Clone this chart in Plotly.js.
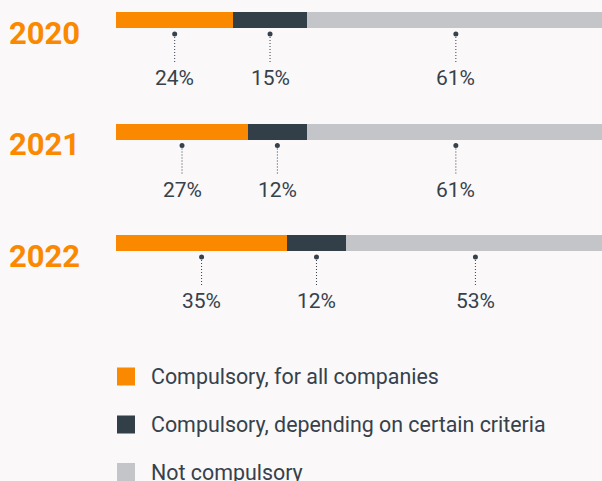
<!DOCTYPE html>
<html>
<head>
<meta charset="utf-8">
<script src="https://cdn.plot.ly/plotly-3.0.1.min.js"></script>
<style>html,body{margin:0;padding:0;background:#FAF8F9;}#chart{width:602px;height:481px;}</style>
</head>
<body>
<div id="chart"></div>
<script>
const years = ['2020', '2021', '2022'];
const forAll = [24, 27, 35];
const depending = [15, 12, 12];
const notCompulsory = [61, 61, 53];
const seriesNames = ['Compulsory, for all companies', 'Compulsory, depending on certain criteria', 'Not compulsory'];
const seriesColors = ['#FA8900', '#323E48', '#C4C5C8'];
const series = [forAll, depending, notCompulsory];

const W = 602, H = 481, L = 116;
const plotW = W - L;
const pxPerPct = 4.89;
const pxPerRow = 111.5;
const firstRowY = 20;
const textColor = '#36414B';
const font = 'Roboto, "Open Sans", sans-serif';

const traces = series.map((vals, s) => ({
  type: 'bar', orientation: 'h', x: vals, y: years, name: seriesNames[s],
  marker: {color: seriesColors[s]}, width: 16 / pxPerRow, hoverinfo: 'none', showlegend: false
}));

const shapes = [];
const annotations = [];
years.forEach((yr, i) => {
  let cum = 0;
  series.forEach((vals, s) => {
    const c = cum + vals[i] / 2;
    cum += vals[i];
    shapes.push({type: 'line', xref: 'x', yref: 'y', x0: c, x1: c, ysizemode: 'pixel', yanchor: i,
      y0: -14, y1: -42, line: {color: textColor, width: 1, dash: '1px,2px'}});
    shapes.push({type: 'circle', xref: 'x', yref: 'y', xsizemode: 'pixel', ysizemode: 'pixel',
      xanchor: c, yanchor: i, x0: -2.5, x1: 2.5, y0: -11.5, y1: -16.5,
      fillcolor: textColor, line: {width: 0}});
    annotations.push({x: c, y: i, xref: 'x', yref: 'y', yshift: -58, showarrow: false,
      text: vals[i] + '%', font: {family: font, size: 21, color: textColor}, xanchor: 'center', yanchor: 'middle'});
  });
  annotations.push({xref: 'paper', yref: 'y', x: (7 - L) / plotW, y: i, yshift: -13, showarrow: false,
    text: '<b>' + yr + '</b>', xanchor: 'left', yanchor: 'middle',
    font: {family: font, size: 31, color: '#FA8900'}});
});

// legend
const legendY = [376.5, 424.5, 472];
seriesNames.forEach((nm, s) => {
  const py = legendY[s];
  shapes.push({type: 'rect', xref: 'paper', yref: 'paper',
    x0: (117 - L) / plotW, x1: (135 - L) / plotW, y0: 1 - (py - 9) / H, y1: 1 - (py + 9) / H,
    fillcolor: seriesColors[s], line: {width: 0}});
  annotations.push({xref: 'paper', yref: 'paper', x: (149 - L) / plotW, y: 1 - py / H, showarrow: false,
    text: nm, xanchor: 'left', yanchor: 'middle', font: {family: font, size: 21.4, color: textColor}});
});

const layout = {
  width: W, height: H,
  margin: {l: L, r: 0, t: 0, b: 0, pad: 0},
  paper_bgcolor: '#FAF8F9', plot_bgcolor: '#FAF8F9',
  barmode: 'stack', showlegend: false,
  xaxis: {range: [0, plotW / pxPerPct], visible: false, fixedrange: true},
  yaxis: {type: 'category', categoryorder: 'array', categoryarray: years,
    range: [-firstRowY / pxPerRow + H / pxPerRow, -firstRowY / pxPerRow], visible: false, fixedrange: true},
  shapes: shapes, annotations: annotations
};
Plotly.newPlot('chart', traces, layout, {displayModeBar: false, staticPlot: true});
</script>
</body>
</html>
